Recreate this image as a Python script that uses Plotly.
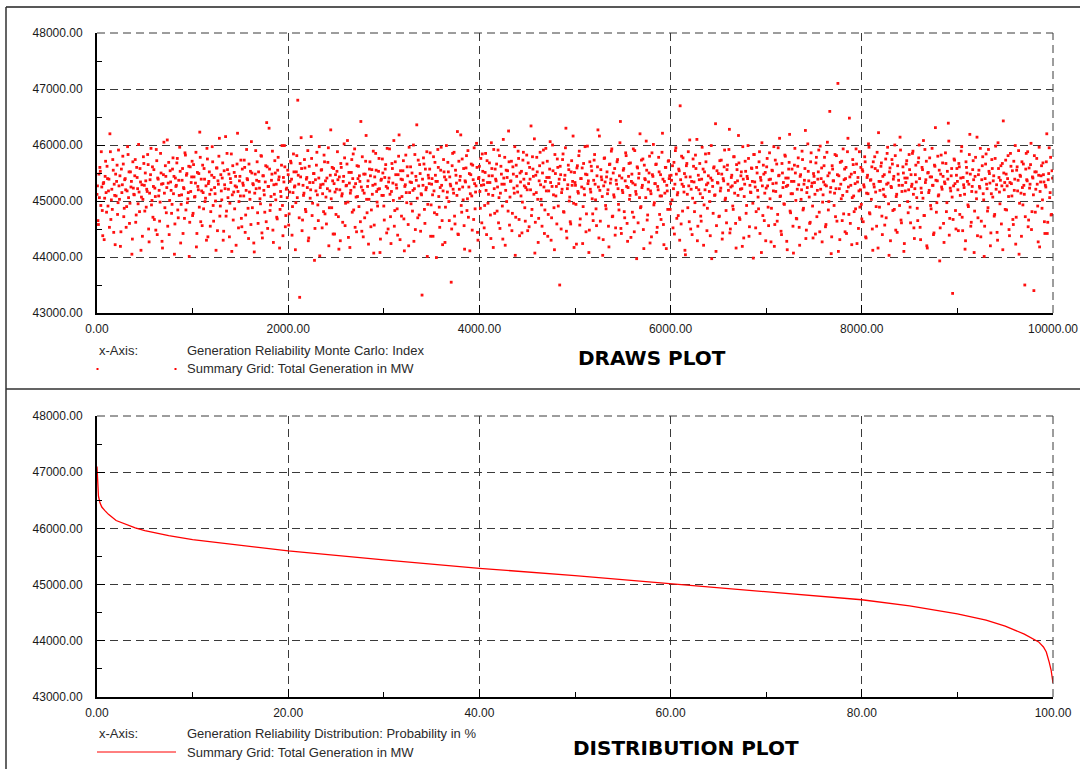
import plotly.graph_objects as go
from plotly.subplots import make_subplots

W, H = 1080, 769

# Monte Carlo draws, offsets from 45000 MW in units of 10 MW
# draws_a: draws 0, 10, 20, ...   draws_b: draws 5, 15, 25, ...
draws_a = [
    12, -35, 48, 60, -8, 25, -62, 33, 5, 71, -20, 40, 18, -47, 88, 2, -15, 55, 30, -78, 9, 64, -3, 27, 45, -55, 15, 80, -28, 38, 20, -10, 97, 6, -40, 52, 35, -68, 23, 11, 74, -25, 42, -5, 16, 58, -88, 29, 3, 67,
    -18, 36, 21, 83, -50, 14, 47, -7, 61, 26, -33, 8, 92, -60, 39, 19, -2, 50, -72, 31, 105, -12, 44, 24, -45, 69, 1, 34, -22, 57, 13, -95, 41, 28, 76, -30, 10, 53, -6, 37, -58, 22, 86, -16, 49, 4, 62, -38, 17, 43,
    -26, 65, 7, 32, -82, 51, 20, -11, 78, 39, -44, 15, 58, -1, 27, 94, -64, 35, 12, -19, 46, 70, -36, 24, 0, 59, -53, 30, 112, -9, 18, 41, -70, 54, 22, -27, 85, 6, 48, -4, 33, -90, 63, 16, -14, 44, 25, 121, -48, 36,
    9, -31, 57, 28, 73, -56, 19, 40, -13, 66, 3, -42, 50, 31, -75, 14, 90, 37, -21, 52, 23, -5, 80, -66, 45, 11, 34, -37, 61, 26, 130, -17, 8, 48, -52, 29, 72, 2, -29, 55, 38, -84, 17, 64, -8, 42, 99, -46, 21, 6,
    47, -23, 35, 68, -61, 15, 52, 27, -3, 81, 180, 30, -172, 43, 58, -34, 10, 74, -15, 39, 24, -71, 62, 5, 115, -26, 33, 49, -49, 18, 87, -7, 41, -98, 29, 56, 13, -19, 70, 36, -41, 22, 95, -12, 46, 4, 60, -59, 31, 16,
    -24, 53, 38, -86, 20, 67, 9, -38, 44, 77, -4, 28, 108, -65, 32, 14, 51, -20, 84, 25, -47, 7, 63, 40, -10, 35, 142, -54, 19, 48, -30, 71, 3, 26, -77, 57, 45, -16, 12, 89, -43, 30, 55, -2, 21, 76, -92, 37, 10, 50,
    -9, 42, 65, -57, 23, 34, 93, -28, 17, 58, 1, -45, 70, 29, -14, 47, 118, -69, 39, 8, 54, -32, 26, 82, -3, 45, -80, 15, 61, 33, -18, 100, 22, -51, 37, 5, 73, -25, 49, 13, -168, 28, 66, -40, 20, 88, -6, 41, 57, -63,
    30, 11, 79, -21, 46, -101, 35, 60, -11, 24, 96, -35, 18, 52, -74, 38, 6, 69, -1, 43, 27, -50, 85, 14, -27, 55, 32, 124, -60, 21, 44, -8, 75, 2, -44, 36, 59, -17, 90, 25, -89, 47, 9, 64, -33, 31, 16, 103, -56, 40,
    62, -13, 28, 84, 37, -48, 51, 19, 72, -4, 45, 33, -67, 58, 10, 92, -22, 39, 66, 25, -39, 81, 14, 48, -9, 110, 30, -79, 55, 42, -18, 70, 7, 36, -53, 61, 23, 97, -29, 44, 16, 76, -62, 34, 53, -2, 87, 27, -36, 49,
    20, 68, -46, 39, 134, -15, 57, 12, -93, 46, 78, 3, -31, 63, 29, -7, 50, 91, -58, 35, 18, 71, -24, 42, 106, -70, 26, 54, -12, 83, 9, -41, 60, 31, -150, 47, 15, 74, -19, 38, 95, -54, 22, 64, 0, -37, 52, 28, 116, -83,
    33, -6, 59, 17, 81, -43, 40, 25, -76, 67, 11, 48, -23, 98, 36, -52, 21, 62, 4, -35, 73, 30, -14, 45, 127, -66, 19, 56, 38, -97, 27, 77, -8, 43, 13, -45, 65, 32, 89, -28, 50, 7, -61, 37, 70, 22, -16, 104, -49, 41,
    15, 58, -30, 86, 26, -72, 44, 3, 68, 35, -20, 93, -55, 29, 12, 61, -39, 49, 120, -10, 24, 75, -85, 40, 6, 55, -25, 34, 80, 18, -64, 47, 101, -3, 31, 66, -47, 20, 52, 9, -33, 87, 39, -78, 14, 60, 28, -15, 72, 45,
    -5, 37, 63, 22, -59, 90, 48, 11, -26, 54, 170, -41, 30, 77, 16, -88, 43, 67, -12, 27, 109, -50, 35, 5, 62, -19, 82, 24, -71, 46, 38, 13, -36, 96, 57, -7, 20, 70, -53, 32, 85, -1, 41, -103, 26, 59, 10, 138, -44, 33,
    49, -27, 18, 73, -68, 40, 61, 2, -17, 56, 30, 92, -57, 25, 46, -9, 79, 14, -40, 65, 36, 117, -30, 21, 52, -81, 39, 8, 71, -22, 44, 99, -63, 28, 15, 58, -4, 83, 34, -48, 60, 19, -14, 88, 42, -92, 27, 64, -35, 51,
    23, 76, -11, 38, 4, -73, 55, 31, 97, -42, 17, 66, -24, 45, 112, 9, -60, 50, 33, -6, 80, 26, -87, 41, 69, -18, 13, 57, -45, 35, 94, 1, -32, 62, 29, -79, 47, 20, 74, -13, 37, 126, -52, 24, 53, 7, -38, 86, 32, -66,
    44, 12, 68, -28, 39, 91, -55, 21, 59, -2, 34, 78, -46, 27, 105, -16, 50, 16, -94, 63, 36, -8, 83, 22, -36, 210, 45, -69, 30, 71, 10, -23, 57, 40, -58, 88, 25, 148, -40, 48, 6, 65, -19, 31, 93, -76, 42, 18, -11, 60,
    -32, 53, 29, 79, -64, 14, 46, 102, -21, 37, 3, -50, 70, 25, 58, -10, 87, -84, 35, 19, 62, -27, 44, 11, -43, 75, 30, 96, -5, 52, -71, 24, 66, 39, -15, 81, 8, -56, 48, 28, 114, -34, 17, 61, -90, 41, 33, 72, -1, 20,
    56, -39, 26, 85, 12, -67, 47, 34, -13, 69, 100, -47, 23, 60, 5, -26, 92, 38, -80, 50, 15, 77, -8, 43, 28, -60, 64, 131, -20, 36, 9, 55, -48, 82, 21, 44, -74, 31, 67, -3, 39, 107, -31, 18, 58, -165, 27, 73, -17, 46,
    35, -53, 61, 10, 89, -29, 42, 24, -86, 70, 50, -7, 30, 119, -45, 17, 56, 38, -18, 78, 4, -62, 47, 26, 94, -36, 63, 13, -99, 40, 84, 22, -12, 53, 32, -57, 74, 7, 45, -24, 98, 29, -70, 58, 16, 37, -41, 67, 143, 20,
    -15, 48, 27, 81, -51, 33, 62, 9, -33, 71, 39, -77, 55, 18, 90, -4, 44, -63, 24, 66, 12, -28, 85, 36, -46, 59, 30, 103, -19, 41, -160, 52, 21, 76, -9, 46, -82, 34, 63, 2, 47, -37, 28, 70, -58, 38, 95, 15, -25, 54,
]
draws_b = [
    27, -42, 6, 53, 88, -17, 31, -69, 44, 15, 62, -9, 39, 120, -33, 21, 74, -56, 10, 48, 35, -24, 91, 3, -81, 57, 29, 66, -13, 40, -47, 18, 83, 52, -4, 25, -95, 70, 12, 45, -38, 60, 22, 101, -19, 34, 7, -63, 79, 28,
    50, -11, 17, 65, -73, 38, 94, 1, -29, 56, 23, -52, 72, 41, 9, -36, 85, 30, -84, 47, 14, 63, -21, 109, 32, -60, 54, 19, -6, 77, 44, -41, 26, 68, -16, 37, 96, -75, 11, 58, 24, -31, 82, 46, -3, 15, -99, 61, 33, 71,
    -22, 43, 8, 87, -58, 26, 49, 123, -37, 18, 64, -14, 39, 5, -70, 75, 31, 52, -45, 20, 97, -8, 42, 13, -88, 59, 36, 80, -27, 47, 2, 68, -54, 29, 115, -18, 56, 21, -64, 40, 84, 11, -34, 51, 27, -79, 66, 17, -1, 44,
    73, -46, 32, 9, 60, -25, 92, 38, -67, 16, 53, 106, -12, 29, -91, 48, 22, 70, -40, 35, 4, 81, -57, 45, 19, -20, 63, 140, -49, 26, 57, -7, 37, 89, -74, 12, 50, 30, -32, 78, 43, -15, 8, 99, -62, 34, 61, -26, 23, 55,
    -43, 16, 71, 39, -10, 84, 25, -87, 52, 6, 46, -30, 67, 113, -53, 28, 14, 59, -19, 42, 90, -66, 33, 20, 76, -4, 49, -106, 38, 64, 11, -35, 97, 24, 55, -48, 30, 82, -23, 7, 41, 69, -80, 18, 127, -12, 36, 58, -59, 47,
    21, 88, -28, 43, -71, 60, 13, 35, 102, -44, 27, 66, -2, 51, -83, 19, 74, 40, -16, 93, 31, -55, 8, 62, 45, -37, 25, 79, -64, 14, 48, 117, -21, 36, 3, 70, -46, 56, 28, -93, 43, 85, 17, -9, 53, 22, -68, 39, 75, 10,
    -34, 57, 26, 94, -50, 41, 12, -76, 67, 32, 108, -17, 47, 23, -61, 80, 5, 54, -27, 38, 72, -89, 29, 15, 61, -42, 96, 34, -5, 50, 19, -72, 83, 44, 136, -30, 27, 65, -54, 11, 39, 77, -15, 57, 24, -99, 46, 31, 86, -7,
    40, -63, 18, 69, 35, -24, 92, 8, -47, 55, 28, -78, 74, 43, -11, 99, 16, 52, -35, 30, -145, 63, 21, 87, -41, 46, 10, -59, 71, 37, 118, -20, 25, 58, -86, 34, 81, 4, -29, 49, 13, 66, -52, 38, 95, -14, 27, 60, -70, 42,
    17, 76, -39, 53, 29, -8, 85, -60, 33, 12, 68, -25, 104, 45, -83, 22, 57, 36, -18, 91, 6, -49, 62, 30, -68, 41, 78, 19, -1, 54, 125, -43, 35, 71, -22, 48, 14, -97, 64, 27, 89, -33, 50, 9, -57, 73, 39, -12, 24, 82,
    -53, 31, 60, 20, -26, 79, 44, 111, -38, 15, 52, -74, 36, 87, 3, -45, 68, 25, -16, 94, 42, -63, 18, 57, 33, -30, 100, 11, -87, 49, 26, 75, -9, 39, 62, -50, 21, 84, -20, 46, 130, -66, 29, 56, 7, -41, 72, 35, -4, 51,
    28, -77, 63, 14, 89, -32, 40, 59, -10, 22, 97, -55, 47, 31, -92, 70, 16, 54, -23, 37, 83, 2, -44, 61, 25, 116, -36, 43, 8, -69, 76, 34, -14, 52, 20, -82, 66, 39, 93, -27, 11, 58, -48, 30, 74, -6, 45, 142, -58, 19,
    55, -19, 36, 81, -40, 24, 67, 10, -65, 48, 32, -29, 90, 17, -103, 59, 41, 6, -12, 73, 28, -51, 64, 38, 107, -34, 21, 50, -75, 13, 86, 44, -7, 31, 65, -56, 26, 78, -24, 47, 9, 121, -42, 35, 60, -85, 18, 71, 40, -15,
    46, 2, -48, 69, 30, 95, -31, 15, 57, -70, 38, 80, -18, 26, 49, -96, 63, 12, 88, -37, 43, 21, -60, 75, 34, -3, 58, 110, -45, 20, 67, -27, 39, 6, -79, 52, 84, 29, -13, 45, 17, -62, 99, 37, -22, 61, 11, -90, 54, 32,
    -28, 72, 23, 48, -57, 36, 91, 5, -39, 64, 19, 128, -50, 42, 27, -15, 79, 33, -84, 56, 10, 68, -33, 45, 22, 97, -66, 30, 53, -8, 40, 76, -46, 16, 59, 35, -102, 83, 25, -19, 50, 7, 70, -58, 37, 104, -26, 48, 14, -71,
    61, 27, -44, 86, 39, -13, 54, 18, -81, 73, 32, -36, 95, 46, 8, -54, 67, 24, -5, 82, 41, -72, 28, 57, 119, -21, 35, 13, -93, 64, 50, -31, 21, 77, -47, 44, 3, 89, -16, 30, 58, -67, 15, 102, 36, -40, 70, 26, -9, 49,
    33, -59, 78, 19, 52, -20, 98, 40, -73, 11, 63, 29, -42, 87, 45, -1, 160, 24, -64, 57, 36, 14, -28, 81, 47, -90, 22, 69, 4, -35, 93, 38, -55, 60, 17, 112, -24, 43, 28, -78, 74, 9, 51, -14, 66, 34, -49, 88, 20, -6,
    56, -37, 25, 70, -66, 42, 13, 96, -23, 38, 61, -88, 30, 79, 16, -45, 54, 122, -11, 35, 68, -60, 21, 47, 8, -30, 85, 32, -97, 59, 26, 74, -17, 44, 100, -52, 12, 63, 37, -8, 91, -39, 28, 50, -76, 18, 66, 41, -21, 83,
    -11, 47, 30, 89, -48, 22, 64, 6, -35, 77, 40, -69, 15, 56, 108, -26, 33, 71, -84, 51, 19, 43, -14, 94, 28, -57, 62, 37, -3, 80, 11, -107, 48, 25, 68, -40, 34, 86, -19, 53, 139, -61, 23, 45, 7, -33, 75, 31, -50, 58,
    20, 67, -24, 41, 97, -53, 29, 12, -71, 60, 35, -10, 83, 48, -38, 26, 72, -92, 44, 16, 114, -30, 55, 23, -64, 38, 79, 2, -45, 66, 30, -18, 92, 49, -80, 13, 58, 36, -27, 76, 21, -56, 104, 42, -5, 63, 27, -87, 50, 33,
    73, -16, 40, 8, -62, 85, 31, 54, -42, 19, 99, -29, 61, 37, -95, 46, 14, 70, -7, 28, -150, 57, 38, 88, -34, 23, 65, -51, 43, 11, 81, -20, 52, 30, -73, 96, 17, 45, -13, 68, 34, -58, 25, 120, -38, 49, 6, 78, -24, 41,
]
draw_step = 10
draw_index = [i * draw_step for i in range(len(draws_a))] + \
             [i * draw_step + draw_step // 2 for i in range(len(draws_b))]
draw_mw = [45000 + 10 * v for v in draws_a + draws_b]

# distribution (exceedance) curve
prob_pct = [0, 0.05, 0.15, 0.3, 0.5, 0.8, 1.2, 2, 3, 4, 5, 7.5, 10, 15, 20, 30, 40, 50,
            60, 70, 80, 85, 90, 93, 95, 97, 98, 98.5, 99, 99.3, 99.6, 99.8, 100]
gen_mw = [47100, 46750, 46580, 46460, 46380, 46320, 46250, 46140, 46070, 46010, 45960,
          45870, 45800, 45700, 45600, 45440, 45290, 45160, 45020, 44880, 44730, 44620,
          44480, 44370, 44260, 44120, 44030, 43980, 43890, 43800, 43620, 43480, 43250]


def px(x):
    return x / W


def py(y):
    return 1 - y / H


fig = make_subplots(rows=2, cols=1)

fig.add_trace(go.Scatter(x=draw_index, y=draw_mw, mode="markers",
                         marker=dict(color="#ff1010", size=2.8, symbol="square", line_width=0),
                         showlegend=False), row=1, col=1)
fig.add_trace(go.Scatter(x=prob_pct, y=gen_mw, mode="lines",
                         line=dict(color="#ff0000", width=1.3),
                         showlegend=False), row=2, col=1)

tickfont = dict(family="Liberation Sans, Arial", size=12, color="#1a1a1a")
axis_common = dict(
    showgrid=True, gridcolor="#3a3a3a", gridwidth=1, griddash="8px,5px",
    showline=True, linecolor="black", linewidth=2,
    ticks="inside", ticklen=8, tickcolor="black", tickwidth=1,
    tickformat=".2f", tickfont=tickfont, zeroline=False, automargin=False,
)

dom_x = [px(97), px(1053)]
fig.update_xaxes(axis_common, domain=dom_x, ticklabelstandoff=4)
fig.update_yaxes(axis_common, ticklabelstandoff=10)

fig.update_xaxes(range=[0, 10000], dtick=2000,
                 minor=dict(dtick=1000, ticks="inside", ticklen=5, tickcolor="black", showgrid=False),
                 row=1, col=1)
fig.update_xaxes(range=[0, 100], dtick=20,
                 minor=dict(dtick=10, ticks="inside", ticklen=5, tickcolor="black", showgrid=False),
                 row=2, col=1)
fig.update_yaxes(range=[43000, 48000], dtick=1000,
                 minor=dict(dtick=500, ticks="inside", ticklen=5, tickcolor="black", showgrid=False))
fig.update_yaxes(domain=[py(313), py(33)], row=1, col=1)
fig.update_yaxes(domain=[py(697), py(416)], row=2, col=1)

legfont = dict(family="Liberation Sans, Arial", size=13, color="#2a2a2a")
notes = [
    (97, 350, "x-Axis:"),
    (185, 350, "Generation Reliability Monte Carlo: Index"),
    (185, 369, "Summary Grid: Total Generation in MW"),
    (97, 733, "x-Axis:"),
    (185, 733, "Generation Reliability Distribution: Probability in %"),
    (185, 752, "Summary Grid: Total Generation in MW"),
]
for x, y, t in notes:
    fig.add_annotation(x=px(x), y=py(y), xref="paper", yref="paper", text=t,
                       showarrow=False, xanchor="left", yanchor="middle", font=legfont)

titlefont = dict(family="DejaVu Sans", size=20, color="black")
fig.add_annotation(x=px(652), y=py(358), xref="paper", yref="paper", text="<b>DRAWS PLOT</b>",
                   showarrow=False, xanchor="center", yanchor="middle", font=titlefont)
fig.add_annotation(x=px(686), y=py(748), xref="paper", yref="paper", text="<b>DISTRIBUTION PLOT</b>",
                   showarrow=False, xanchor="center", yanchor="middle", font=titlefont)

grid_dash = dict(color="#3a3a3a", width=1, dash="8px,5px")
shapes = [
    # frame lines
    dict(type="line", x0=px(6), x1=1, y0=py(7), y1=py(7), line=dict(color="#202020", width=1.5)),
    dict(type="line", x0=px(6), x1=px(6), y0=py(7), y1=0, line=dict(color="#303030", width=1.5)),
    dict(type="line", x0=px(6), x1=1, y0=py(389), y1=py(389), line=dict(color="#303030", width=1.5)),
    # legend keys
    dict(type="rect", x0=px(96.5), x1=px(98.5), y0=py(370), y1=py(368), fillcolor="#ff0000", line_width=0),
    dict(type="rect", x0=px(174.5), x1=px(176.5), y0=py(370), y1=py(368), fillcolor="#ff0000", line_width=0),
    dict(type="line", x0=px(97), x1=px(176), y0=py(752), y1=py(752), line=dict(color="#ff0000", width=1)),
]
for s in shapes:
    s.update(xref="paper", yref="paper")
# dashed grid lines along the top and right edges of each plot
for ax in ["", "2"]:
    shapes.append(dict(type="line", xref=f"x{ax} domain", yref=f"y{ax} domain",
                       x0=0, x1=1, y0=1, y1=1, line=grid_dash))
    shapes.append(dict(type="line", xref=f"x{ax} domain", yref=f"y{ax} domain",
                       x0=1, x1=1, y0=0, y1=1, line=grid_dash))
fig.update_layout(shapes=shapes)

fig.update_layout(
    width=W, height=H,
    margin=dict(l=0, r=0, t=0, b=0),
    paper_bgcolor="white", plot_bgcolor="white",
    showlegend=False,
)

# drop the default page margin so the 1080x769 figure fills the window
fig.write_html("out.html", config={"displayModeBar": False},
               post_script="document.body.style.margin='0px';")
